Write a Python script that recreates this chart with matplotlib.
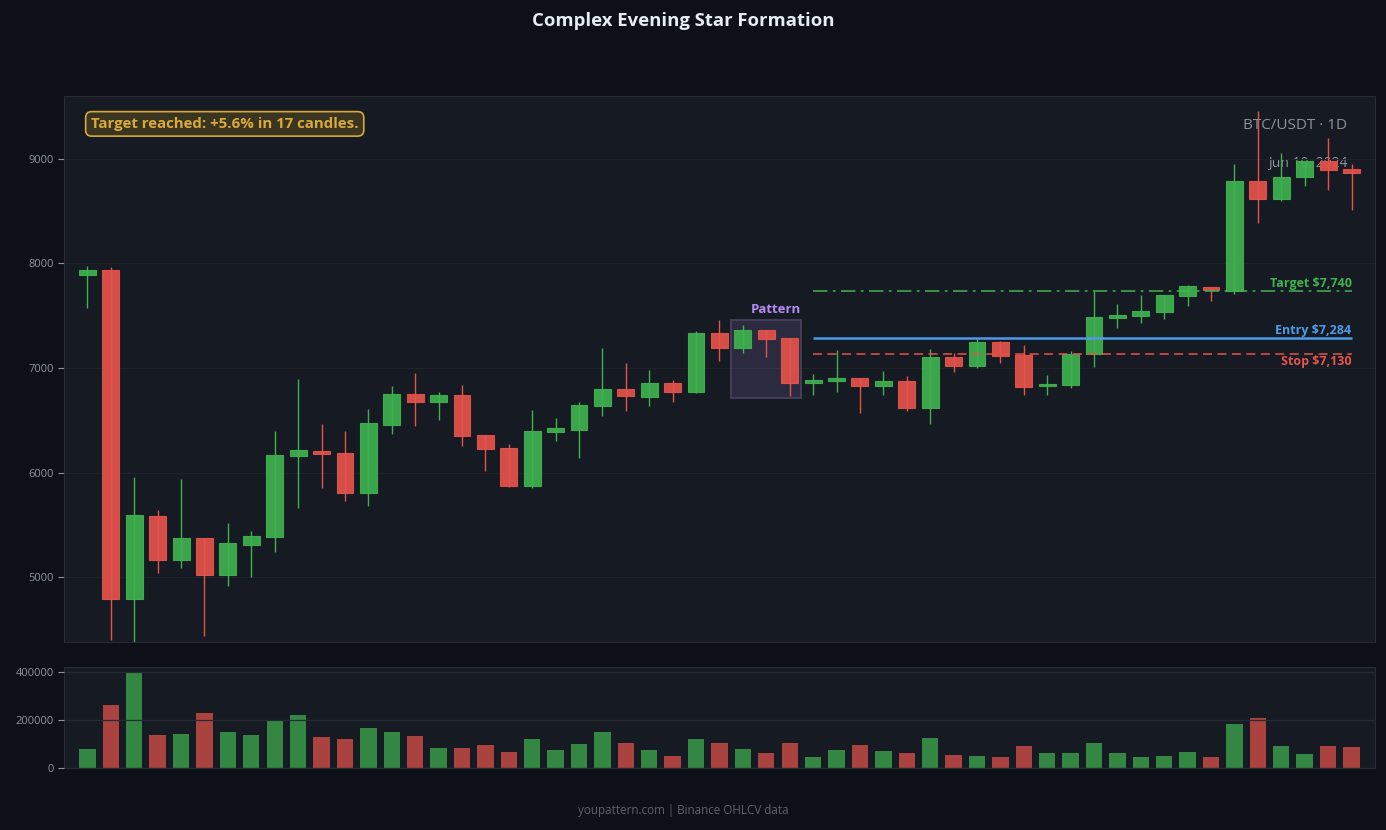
#!/usr/bin/env python
"""
Complex Evening Star Formation - BTC/USDT 1D candlestick chart with volume.

- Writes: out.png
"""

import matplotlib.pyplot as plt
from matplotlib.patches import Rectangle

plt.rcParams["font.family"] = ["Open Sans", "Noto Sans", "DejaVu Sans"]

# OHLCV data
opens = [7888, 7936, 4795, 5580, 5167, 5372, 5024, 5310, 5385, 6160,
         6204, 6187, 5808, 6456, 6753, 6674, 6743, 6361, 6238, 5870,
         6388, 6408, 6637, 6801, 6722, 6855, 6767, 7333, 7193, 7363,
         7288, 6858, 6876, 6903, 6828, 6876, 6620, 7104, 7019, 7247,
         7128, 6831, 6834, 7131, 7480, 7496, 7534, 7687, 7772, 7738,
         8785, 8615, 8823, 8976, 8901]
closes = [7936, 4795, 5590, 5167, 5372, 5024, 5324, 5396, 6170, 6217,
          6177, 5808, 6473, 6753, 6674, 6743, 6347, 6228, 5870, 6398,
          6422, 6647, 6801, 6733, 6855, 6767, 7333, 7193, 7363, 7275,
          6858, 6882, 6903, 6825, 6876, 6620, 7104, 7019, 7247, 7114,
          6818, 6848, 7131, 7486, 7506, 7541, 7697, 7779, 7749, 8785,
          8615, 8830, 8976, 8891, 8864]
highs = [7977, 7967, 5955, 5641, 5938, 5372, 5522, 5437, 6402, 6899,
         6460, 6402, 6603, 6831, 6954, 6773, 6841, 6361, 6269, 6596,
         6517, 6678, 7193, 7043, 6985, 6889, 7356, 7462, 7414, 7363,
         7288, 6947, 7176, 6903, 6971, 6927, 7186, 7142, 7289, 7262,
         7217, 6937, 7159, 7738, 7616, 7701, 7697, 7789, 7772, 8949,
         9457, 9051, 8976, 9198, 8949]
lows = [7578, 4397, 4370, 5044, 5089, 4437, 4915, 5000, 5239, 5665,
        5853, 5726, 5682, 6367, 6443, 6500, 6252, 6013, 5860, 5853,
        6306, 6136, 6538, 6593, 6640, 6671, 6760, 7063, 7142, 7101,
        6729, 6746, 6766, 6569, 6746, 6593, 6460, 6964, 7002, 7046,
        6739, 6746, 6807, 7012, 7380, 7428, 7472, 7595, 7643, 7704,
        8386, 8601, 8744, 8703, 8512]
volumes = [79400, 263400, 400000, 138000, 142200, 230000, 150500, 138000, 200700, 221600,
           129600, 121300, 167200, 150500, 133800, 83600, 83600, 96200, 66900, 121300,
           75300, 100300, 150500, 104500, 75300, 50200, 121300, 104500, 79400, 62700,
           104500, 46000, 75300, 96200, 71100, 62700, 125400, 54400, 50200, 46000,
           92000, 62700, 62700, 104500, 62700, 46000, 50200, 66900, 46000, 184000,
           209000, 92000, 58500, 92000, 87800]

# pattern candles and trade levels
pattern_idx = [28, 29, 30]
trade_start = 31
entry_price = 7284
stop_price = 7130
target_price = 7740

BG_FIG = "#0d1017"
BG_AX = "#161a22"
GREEN = "#3fb24f"
RED = "#e5534b"
BLUE = "#4d9be6"
PURPLE = "#b48cf2"
GOLD = "#d9aa3a"
MUTED = "#8b949e"


def draw_candles(ax):
    width = 0.72
    for i, (o, h, l, c) in enumerate(zip(opens, highs, lows, closes)):
        color = GREEN if c >= o else RED
        ax.vlines(i, l, h, color=color, linewidth=1.0, zorder=3)
        bottom = min(o, c)
        height = max(abs(c - o), 8)
        ax.add_patch(Rectangle((i - width / 2, bottom), width, height,
                               facecolor=color, edgecolor=color,
                               linewidth=0.8, alpha=0.92, zorder=4))


def main():
    fig = plt.figure(figsize=(13.86, 8.30), dpi=100, facecolor=BG_FIG)
    ax = fig.add_axes([0.0462, 0.2265, 0.9458, 0.6578], facecolor=BG_AX)
    vax = fig.add_axes([0.0462, 0.0747, 0.9458, 0.1217], facecolor=BG_AX,
                       sharex=ax)

    n = len(opens)
    draw_candles(ax)

    ax.set_xlim(-1, n)
    ax.set_ylim(4380, 9600)
    ax.set_yticks([5000, 6000, 7000, 8000, 9000])
    ax.grid(True, axis="y", color="#1e232b", linewidth=0.8, zorder=0)
    ax.tick_params(axis="x", bottom=False, labelbottom=False)
    ax.tick_params(axis="y", colors=MUTED, labelsize=8, length=4)
    for sp in ax.spines.values():
        sp.set_color("#262b34")

    # pattern highlight box
    p_lo = min(lows[i] for i in pattern_idx) - 20
    p_hi = max(highs[i] for i in pattern_idx) + 40
    x0 = pattern_idx[0] - 0.5
    x1 = pattern_idx[-1] + 0.5
    ax.add_patch(Rectangle((x0, p_lo), x1 - x0, p_hi - p_lo,
                           facecolor=PURPLE, alpha=0.14, edgecolor="none",
                           zorder=2))
    ax.add_patch(Rectangle((x0, p_lo), x1 - x0, p_hi - p_lo,
                           facecolor="none", edgecolor="#4a4360",
                           linewidth=1.2, zorder=2))
    ax.text(x1, p_hi + 40, "Pattern", color=PURPLE, fontsize=9.5,
            fontweight="bold", ha="right", va="bottom", zorder=6)

    # trade levels
    xe = n - 1
    ax.hlines(target_price, trade_start, xe, color=GREEN, linewidth=1.3,
              linestyles=(0, (8, 3, 1.5, 3)), zorder=5, alpha=0.85)
    ax.hlines(entry_price, trade_start, xe, color=BLUE, linewidth=1.8,
              zorder=5)
    ax.hlines(stop_price, trade_start, xe, color=RED, linewidth=1.3,
              linestyles=(0, (5, 3)), zorder=5, alpha=0.85)
    ax.text(xe, target_price + 8, f"Target ${target_price:,}", color=GREEN,
            fontsize=9, fontweight="bold", ha="right", va="bottom", zorder=6)
    ax.text(xe, entry_price + 10, f"Entry ${entry_price:,}", color=BLUE,
            fontsize=9, fontweight="bold", ha="right", va="bottom", zorder=6)
    ax.text(xe, stop_price - 8, f"Stop ${stop_price:,}", color=RED,
            fontsize=9, fontweight="bold", ha="right", va="top", zorder=6)

    # header texts
    ax.text(0.979, 0.946, "BTC/USDT \u00b7 1D", transform=ax.transAxes,
            color=MUTED, fontsize=11, ha="right", va="center", zorder=1)
    ax.text(0.979, 0.877, "Jun 10, 2024", transform=ax.transAxes,
            color=MUTED, fontsize=10, ha="right", va="center", zorder=1)
    ax.text(0.0205, 0.949, "Target reached: +5.6% in 17 candles.",
            transform=ax.transAxes, color=GOLD, fontsize=10.8,
            fontweight="bold", ha="left", va="center", zorder=7,
            bbox=dict(boxstyle="round,pad=0.35,rounding_size=0.4",
                      facecolor="#3a3520", edgecolor=GOLD, linewidth=1.2))

    # volume panel
    vcolors = [GREEN if c >= o else RED for o, c in zip(opens, closes)]
    vax.bar(range(n), volumes, width=0.7, color=vcolors, alpha=0.72,
            zorder=2)
    vax.set_ylim(0, 420000)
    vax.set_yticks([0, 200000, 400000])
    vax.set_yticklabels(["0", "200000", "400000"])
    vax.grid(True, axis="y", color="#262b34", linewidth=0.9, zorder=3)
    vax.set_axisbelow(False)
    vax.tick_params(axis="x", bottom=False, labelbottom=False)
    vax.tick_params(axis="y", colors=MUTED, labelsize=8, length=4)
    for sp in vax.spines.values():
        sp.set_color("#262b34")

    fig.text(0.4928, 0.9745, "Complex Evening Star Formation", color="#e6edf3",
             fontsize=13.3, fontweight="bold", ha="center", va="center")
    fig.text(0.4928, 0.024, "youpattern.com | Binance OHLCV data",
             color="#5c636d", fontsize=8.4, ha="center", va="center")

    fig.savefig("out.png", dpi=100, facecolor=BG_FIG)
    plt.close(fig)


if __name__ == "__main__":
    main()
